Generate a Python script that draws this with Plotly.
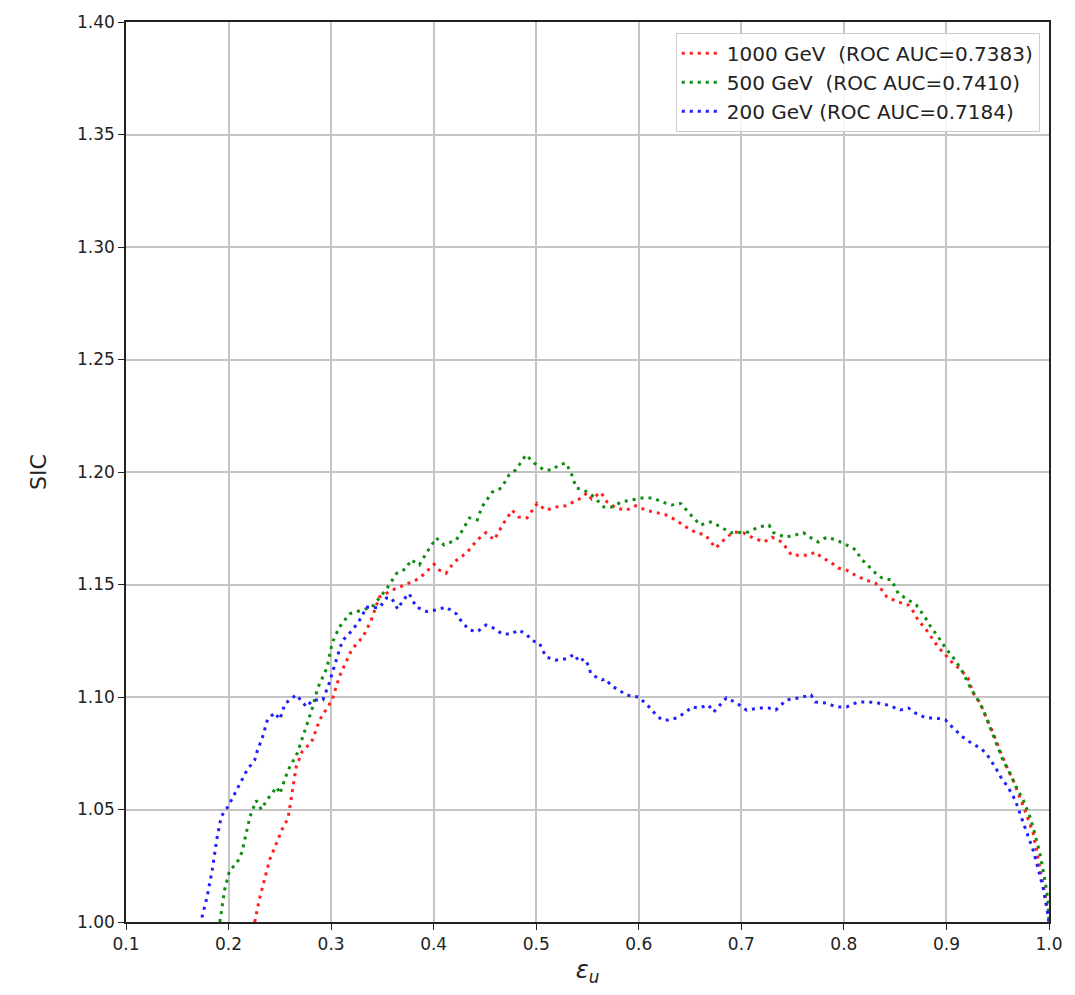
import plotly.graph_objects as go

# Signal improvement characteristic (SIC) vs. signal efficiency for three mass points
eps_1000 = [0.2255, 0.230, 0.240, 0.253, 0.258, 0.266, 0.272, 0.281, 0.289, 0.301, 0.308, 0.320, 0.331, 0.339,
            0.347, 0.360, 0.3715, 0.383, 0.389, 0.4005, 0.4055, 0.412, 0.420, 0.432, 0.4425, 0.451, 0.459, 0.467,
            0.4765, 0.483, 0.491, 0.501, 0.5095, 0.519, 0.529, 0.542, 0.5495, 0.554, 0.563, 0.569, 0.578, 0.588,
            0.597, 0.607, 0.617, 0.626, 0.636, 0.646, 0.656, 0.665, 0.675, 0.685, 0.6925, 0.702, 0.710, 0.722,
            0.730, 0.7395, 0.749, 0.759, 0.7655, 0.772, 0.778, 0.788, 0.7945, 0.8025, 0.811, 0.821, 0.8305, 0.837,
            0.842, 0.853, 0.863, 0.868, 0.8725, 0.879, 0.885, 0.892, 0.899, 0.905, 0.914, 0.921, 0.926, 0.933,
            0.9385, 0.9455, 0.952, 0.958, 0.965, 0.9715, 0.9775, 0.9845, 0.989, 0.994, 0.997, 1.000]
sic_1000 = [1.000, 1.010, 1.0276, 1.042, 1.046, 1.069, 1.076, 1.080, 1.090, 1.0987, 1.109, 1.121, 1.1267, 1.134,
            1.1444, 1.1476, 1.1498, 1.152, 1.154, 1.159, 1.1564, 1.155, 1.160, 1.164, 1.1698, 1.173, 1.1698, 1.1764,
            1.183, 1.180, 1.1796, 1.186, 1.183, 1.1844, 1.185, 1.188, 1.1907, 1.188, 1.191, 1.1867, 1.184, 1.183,
            1.185, 1.183, 1.182, 1.181, 1.1787, 1.1756, 1.173, 1.172, 1.1662, 1.1707, 1.1733, 1.173, 1.171, 1.1689,
            1.171, 1.1689, 1.163, 1.163, 1.163, 1.1644, 1.1622, 1.1596, 1.1573, 1.1564, 1.1542, 1.152, 1.1507, 1.1476,
            1.1444, 1.1422, 1.1409, 1.1378, 1.134, 1.1307, 1.1267, 1.1222, 1.1187, 1.1156, 1.112, 1.1084, 1.1018, 1.0973,
            1.0911, 1.084, 1.0764, 1.0698, 1.0631, 1.0556, 1.0484, 1.0396, 1.029, 1.0187, 1.010, 1.000]

eps_500 = [0.1915, 0.196, 0.201, 0.208, 0.213, 0.221, 0.227, 0.232, 0.237, 0.247, 0.250, 0.258, 0.267, 0.276,
           0.281, 0.287, 0.296, 0.301, 0.308, 0.318, 0.331, 0.340, 0.347, 0.354, 0.364, 0.373, 0.378, 0.386, 0.393,
           0.4025, 0.410, 0.422, 0.427, 0.435, 0.4425, 0.447, 0.457, 0.466, 0.4735, 0.480, 0.490, 0.498, 0.5075,
           0.5155, 0.522, 0.529, 0.534, 0.539, 0.5465, 0.554, 0.561, 0.566, 0.574, 0.583, 0.593, 0.603, 0.6145,
           0.6225, 0.632, 0.641, 0.649, 0.660, 0.670, 0.680, 0.6895, 0.699, 0.707, 0.717, 0.727, 0.7315, 0.743,
           0.7525, 0.7605, 0.768, 0.775, 0.783, 0.7925, 0.8025, 0.812, 0.816, 0.8225, 0.831, 0.837, 0.8465, 0.853,
           0.863, 0.8705, 0.879, 0.885, 0.892, 0.899, 0.9085, 0.916, 0.923, 0.929, 0.936, 0.9425, 0.948, 0.955,
           0.962, 0.968, 0.975, 0.9815, 0.986, 0.991, 0.996, 0.999, 1.000]
sic_500 = [1.000, 1.014, 1.023, 1.026, 1.031, 1.047, 1.054, 1.050, 1.054, 1.060, 1.057, 1.0675, 1.075, 1.087,
           1.094, 1.104, 1.113, 1.124, 1.131, 1.137, 1.1387, 1.140, 1.144, 1.148, 1.155, 1.157, 1.161, 1.1587, 1.164,
           1.1707, 1.1676, 1.1698, 1.1733, 1.1796, 1.1787, 1.1844, 1.191, 1.1929, 1.1987, 1.2009, 1.2076, 1.204, 1.2009,
           1.2009, 1.2031, 1.204, 1.1996, 1.1929, 1.192, 1.1898, 1.1867, 1.1844, 1.1844, 1.1867, 1.1876, 1.1884, 1.1884,
           1.1867, 1.1853, 1.186, 1.1818, 1.1764, 1.1778, 1.1756, 1.173, 1.173, 1.1733, 1.1756, 1.1764, 1.173, 1.171,
           1.172, 1.173, 1.1707, 1.1689, 1.171, 1.1698, 1.1676, 1.1653, 1.1618, 1.1587, 1.155, 1.1529, 1.152, 1.146,
           1.143, 1.1409, 1.1356, 1.131, 1.1267, 1.1218, 1.1164, 1.111, 1.1044, 1.100, 1.0942, 1.0867, 1.0796, 1.072,
           1.066, 1.060, 1.054, 1.0467, 1.0396, 1.0307, 1.0187, 1.010, 1.000]

eps_200 = [0.174, 0.179, 0.184, 0.189, 0.193, 0.199, 0.206, 0.213, 0.218, 0.2255, 0.228, 0.233, 0.238, 0.245,
           0.250, 0.255, 0.266, 0.276, 0.282, 0.292, 0.298, 0.305, 0.311, 0.321, 0.330, 0.334, 0.347, 0.354, 0.359,
           0.365, 0.370, 0.376, 0.383, 0.393, 0.4025, 0.412, 0.422, 0.428, 0.435, 0.4425, 0.451, 0.457, 0.467,
           0.4755, 0.483, 0.491, 0.496, 0.503, 0.5095, 0.519, 0.530, 0.537, 0.542, 0.5465, 0.551, 0.553, 0.558,
           0.564, 0.568, 0.573, 0.581, 0.5875, 0.593, 0.600, 0.605, 0.610, 0.617, 0.6225, 0.629, 0.637, 0.646,
           0.652, 0.6585, 0.668, 0.673, 0.6855, 0.6955, 0.705, 0.717, 0.727, 0.7335, 0.744, 0.756, 0.768, 0.772,
           0.783, 0.7925, 0.8025, 0.814, 0.824, 0.8335, 0.843, 0.855, 0.863, 0.8695, 0.880, 0.889, 0.899, 0.9065,
           0.916, 0.924, 0.933, 0.9385, 0.9475, 0.953, 0.960, 0.967, 0.9715, 0.9775, 0.9845, 0.989, 0.994, 0.997, 1.000]
sic_200 = [1.002, 1.011, 1.023, 1.038, 1.047, 1.051, 1.057, 1.063, 1.0675, 1.072, 1.076, 1.082, 1.090, 1.093,
           1.090, 1.097, 1.101, 1.0956, 1.0987, 1.0987, 1.106, 1.1164, 1.125, 1.1298, 1.1356, 1.140, 1.1396, 1.144, 1.144,
           1.139, 1.143, 1.146, 1.140, 1.138, 1.1387, 1.140, 1.137, 1.133, 1.1298, 1.129, 1.132, 1.131, 1.128,
           1.128, 1.1298, 1.1276, 1.125, 1.124, 1.1178, 1.1164, 1.117, 1.119, 1.1156, 1.117, 1.114, 1.1107, 1.109,
           1.1076, 1.108, 1.105, 1.103, 1.1009, 1.1004, 1.100, 1.0978, 1.0956, 1.092, 1.0898, 1.0898, 1.0907, 1.0933,
           1.0956, 1.0951, 1.0964, 1.0933, 1.0996, 1.0973, 1.0942, 1.0951, 1.0951, 1.0942, 1.0987, 1.0996, 1.1009, 1.0978,
           1.0973, 1.0956, 1.0956, 1.0978, 1.0978, 1.0973, 1.0964, 1.0942, 1.0951, 1.0929, 1.0907, 1.0907, 1.0898, 1.0862,
           1.0822, 1.0796, 1.0773, 1.0751, 1.0689, 1.0644, 1.060, 1.0542, 1.0484, 1.0409, 1.032, 1.0244, 1.0156, 1.0084, 1.000]

series = [
    ("1000 GeV\u00a0 (ROC AUC=0.7383)", eps_1000, sic_1000, "#ff2020"),
    ("500 GeV\u00a0 (ROC AUC=0.7410)", eps_500, sic_500, "#108c10"),
    ("200 GeV (ROC AUC=0.7184)", eps_200, sic_200, "#2020ff"),
]

x_ticks = [0.1, 0.2, 0.3, 0.4, 0.5, 0.6, 0.7, 0.8, 0.9, 1.0]
y_ticks = [1.00, 1.05, 1.10, 1.15, 1.20, 1.25, 1.30, 1.35, 1.40]

FONT = "DejaVu Sans"

fig = go.Figure()
for i, (name, xs, ys, col) in enumerate(series):
    fig.add_trace(go.Scatter(
        x=xs, y=ys, mode="lines", name=name, legendgroup=f"g{i}",
        line=dict(color=col, width=3, dash="3px,5px"),
    ))

axis_common = dict(
    showline=True, linecolor="#222222", linewidth=1.5, mirror=True,
    ticks="outside", ticklen=6, tickwidth=1.2, tickcolor="#222222",
    showgrid=True, gridcolor="#c4c4c4", gridwidth=1.5,
    zeroline=False, tickfont=dict(family=FONT, size=17, color="#222222"),
)

fig.update_layout(
    width=1075, height=995,
    margin=dict(l=126, r=24, t=22, b=73),
    paper_bgcolor="white", plot_bgcolor="white",
    xaxis=dict(range=[0.1, 1.0], tickvals=x_ticks, tickformat=".1f",
               title=dict(text="<i>ε<sub>u</sub></i>", font=dict(family=FONT, size=24, color="#222222"), standoff=8),
               **axis_common),
    yaxis=dict(range=[1.0, 1.4], tickvals=y_ticks, tickformat=".2f",
               title=dict(text="SIC", font=dict(family=FONT, size=22, color="#222222"), standoff=24),
               **axis_common),
    legend=dict(
        x=0.99, y=0.988, xanchor="right", yanchor="top",
        bgcolor="rgba(255,255,255,0.85)", bordercolor="#cccccc", borderwidth=1,
        font=dict(family=FONT, size=20, color="#222222"),
        tracegroupgap=0, itemwidth=40,
    ),
    showlegend=True,
)

fig.write_html("out.html")
